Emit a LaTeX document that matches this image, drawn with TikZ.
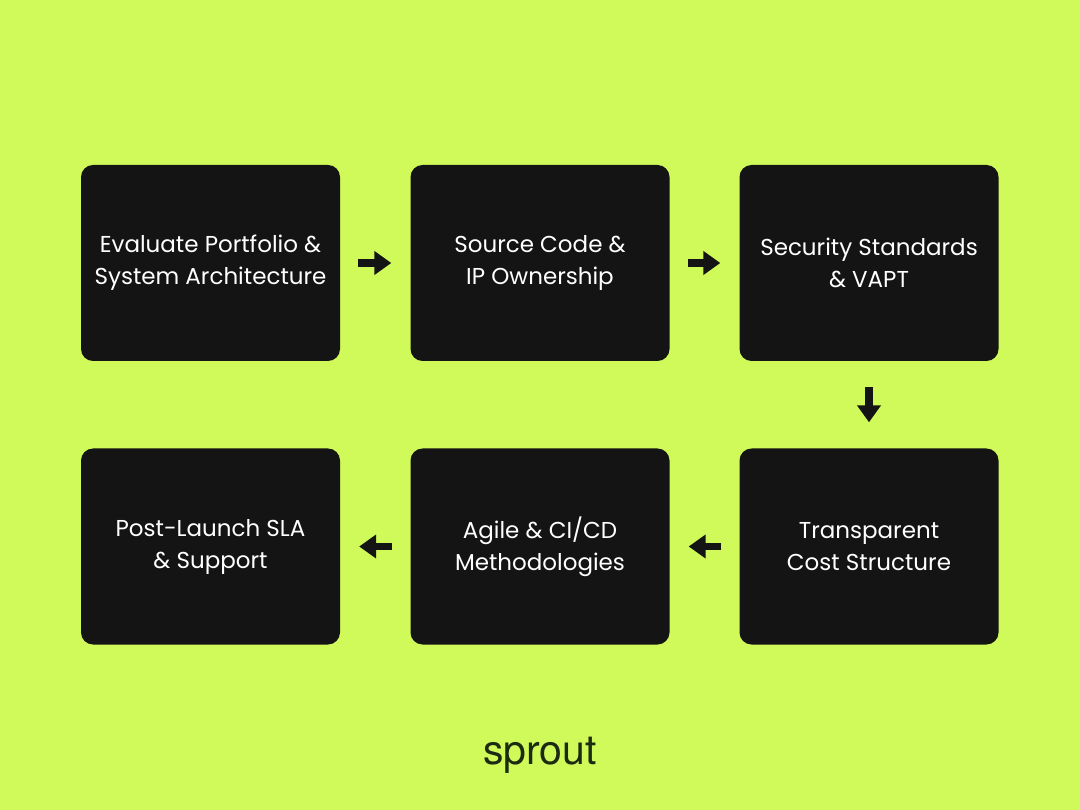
\documentclass[tikz,border=0pt]{standalone}
\usepackage{fontspec}
\setmainfont{Poppins}
\newfontfamily\logofont{TeX Gyre Heros}
\usetikzlibrary{arrows.meta}
\definecolor{lime}{HTML}{D0FA5A}
\definecolor{boxblack}{HTML}{141414}
\definecolor{logoink}{HTML}{1C2A12}

\begin{document}
\begin{tikzpicture}[x=1pt,y=-1pt,>={Triangle[length=17pt,width=23pt]}]
			\tikzset{stepbox/.style={rectangle,rounded corners=12pt,fill=boxblack,text=white,
				minimum width=259pt,minimum height=196pt,align=center,
				font=\fontsize{23}{32}\selectfont}};
			\tikzset{flow/.style={->,line width=7.5pt,draw=boxblack}};
			\fill[lime] (0,0) rectangle (1080,810);
			\useasboundingbox (0,0) rectangle (1080,810);
			\node[stepbox] (1) at (210.5, 263) {Evaluate Portfolio \&\\System Architecture};
			\node[stepbox] (2) at (540, 263) {Source Code \&\\IP Ownership};
			\node[stepbox] (3) at (869, 263) {Security Standards\\\& VAPT};
			\node[stepbox] (4) at (869, 546.5) {Transparent\\Cost Structure};
			\node[stepbox] (5) at (540, 546.5) {Agile \& CI/CD\\Methodologies};
			\node[stepbox] (6) at (210.5, 546.5) {Post-Launch SLA\\\& Support};
			\draw[flow,shorten <=18pt,shorten >=19pt] (1) -- (2);
			\draw[flow,shorten <=18pt,shorten >=19pt] (2) -- (3);
			\draw[flow,shorten <=26pt,shorten >=26pt] (3) -- (4);
			\draw[flow,shorten <=18pt,shorten >=19pt] (4) -- (5);
			\draw[flow,shorten <=18pt,shorten >=19pt] (5) -- (6);
			\node[text=logoink,font=\logofont\fontsize{41}{43}\selectfont] (logo) at (540, 755) {sprout};
		\end{tikzpicture}
\end{document}
